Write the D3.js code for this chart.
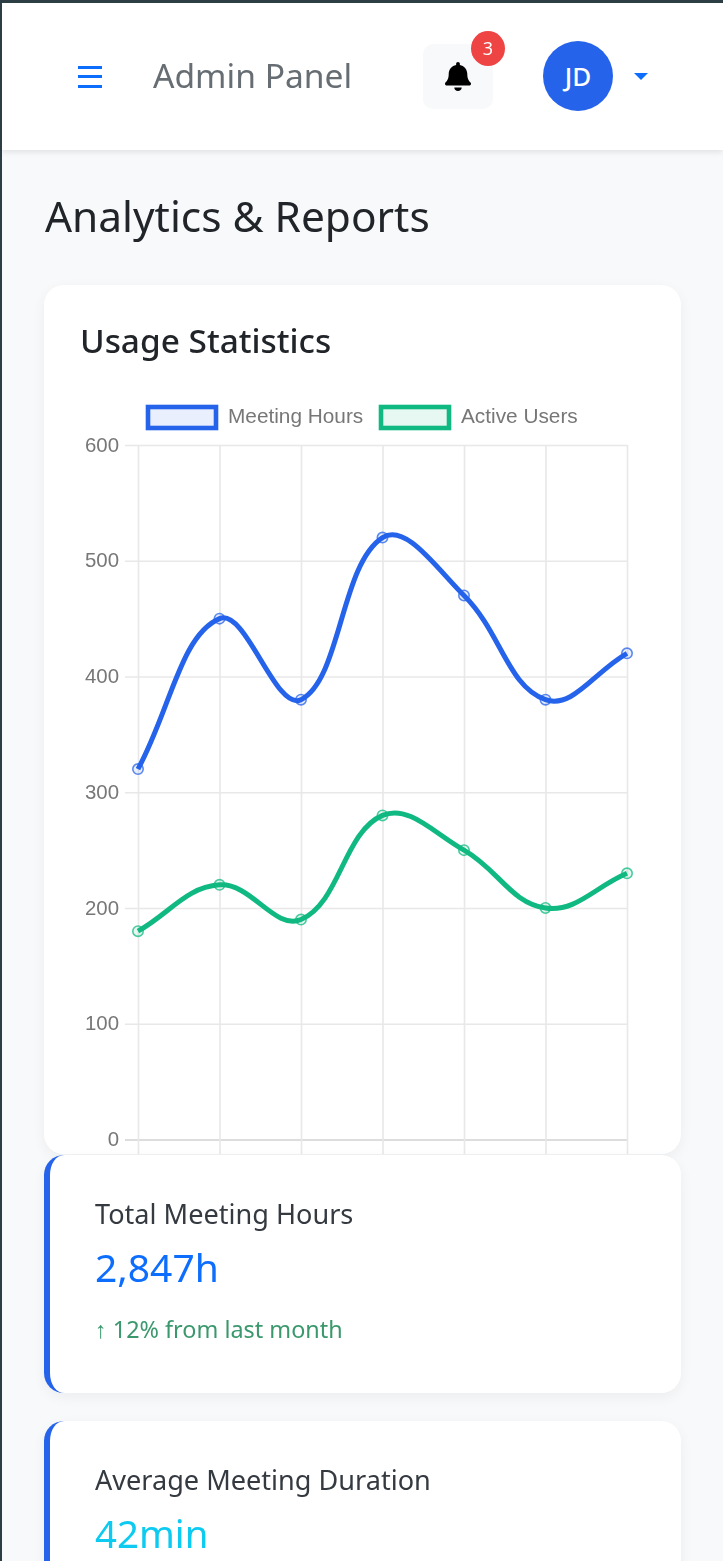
<!DOCTYPE html>
<html><head><meta charset="utf-8">
<script src="https://cdn.jsdelivr.net/npm/d3@7"></script>
<style>
html,body{margin:0;padding:0;width:723px;height:1561px;overflow:hidden;background:#f8f9fa;}
body{position:relative;font-family:"Noto Sans",sans-serif;}
#page{position:absolute;left:0;top:0;width:723px;height:1561px;overflow:hidden;filter:blur(0.45px)}
.abs{position:absolute;white-space:nowrap;line-height:1;}
.frameT{left:0;top:0;width:723px;height:3px;background:#2c3e44;z-index:9}
.frameL{left:0;top:0;width:2px;height:1561px;background:#2c3e44;z-index:9}
.header{left:2px;top:3px;width:721px;height:147px;background:#fff;box-shadow:0 2px 6px rgba(0,0,0,.1)}
.card{left:44px;width:637px;background:#fff;border-radius:20px;box-shadow:0 4px 14px rgba(0,0,0,.05);box-sizing:border-box}
.stat{border-left:6px solid #2563eb}
svg{position:absolute;left:0;top:0}
</style></head><body><div id="page">
<div class="abs frameT"></div><div class="abs frameL"></div>
<div class="abs header"></div>
<div class="abs" style="left:78px;top:66px;width:24px;height:3px;background:#0d6efd"></div>
<div class="abs" style="left:78px;top:75px;width:24px;height:3px;background:#0d6efd"></div>
<div class="abs" style="left:78px;top:85px;width:24px;height:3px;background:#0d6efd"></div>
<div class="abs" id="brand" style="left:153px;top:59px;font-size:33.6px;color:#666d73">Admin Panel</div>
<div class="abs" style="left:423px;top:44px;width:70px;height:65px;background:#f8f9fa;border-radius:10px"></div>
<svg class="abs" style="left:445px;top:62px" width="26" height="29" viewBox="0 0 448 512" preserveAspectRatio="none"><path fill="#000" d="M224 512c35.32 0 63.97-28.65 63.97-64H160.03c0 35.35 28.65 64 63.97 64zm215.39-149.71c-19.32-20.76-55.47-51.99-55.47-154.29 0-77.7-54.48-139.9-127.94-155.16V32c0-17.67-14.32-32-31.98-32s-31.98 14.33-31.98 32v20.84C118.56 68.1 64.08 130.3 64.08 208c0 102.3-36.15 133.53-55.47 154.29-6 6.45-8.66 14.16-8.61 21.71.11 16.4 12.98 32 32.1 32h383.8c19.12 0 32-15.6 32.1-32 .05-7.55-2.61-15.27-8.61-21.71z"/></svg>
<div class="abs" style="left:471px;top:31px;width:34px;height:35px;border-radius:50%;background:#ef4444;color:#fff;font-size:18px;text-align:center;line-height:35px">3</div>
<div class="abs" style="left:543px;top:41px;width:70px;height:70px;border-radius:50%;background:#2563eb;color:#fff;font-size:26px;font-weight:500;text-align:center;line-height:70px">JD</div>
<div class="abs" style="left:634px;top:73px;width:0;height:0;border-left:7px solid transparent;border-right:7px solid transparent;border-top:7px solid #0d6efd"></div>
<div class="abs" id="title" style="left:45px;top:195px;font-size:42.4px;color:#212529;">Analytics &amp; Reports</div>
<div class="abs card" style="top:285px;height:869px"></div>
<div class="abs" id="usage" style="left:80px;top:324px;font-size:33.4px;font-weight:500;color:#212529">Usage Statistics</div>
<div id="chart"></div>
<div class="abs card stat" style="top:1155px;height:238px;z-index:2"></div>
<div class="abs" style="left:95px;top:1200px;font-size:27.1px;color:#343a40;z-index:3">Total Meeting Hours</div>
<div class="abs" style="left:95px;top:1247px;font-size:39px;color:#0d6efd;z-index:3">2,847h</div>
<div class="abs" style="left:95px;top:1318px;font-size:23.4px;color:#198754;opacity:.85;z-index:3">↑ 12% from last month</div>
<div class="abs card stat" style="top:1421px;height:240px;z-index:2"></div>
<div class="abs" style="left:95px;top:1466px;font-size:27.1px;color:#343a40;z-index:3">Average Meeting Duration</div>
<div class="abs" style="left:95px;top:1514px;font-size:38.4px;color:#0dcaf0;z-index:3">42min</div>
</div>
<script>
const categories = ["Jan","Feb","Mar","Apr","May","Jun","Jul"];
const meetingHours = [320,450,380,520,470,380,420];
const activeUsers = [180,220,190,280,250,200,230];
const yTicks = [0,100,200,300,400,500,600];
const seriesNames = ["Meeting Hours","Active Users"];
const seriesColors = ["#2563eb","#10b981"];
const seriesFills = ["rgba(37,99,235,.1)","rgba(16,185,129,.1)"];

const svg = d3.select("#chart").append("svg").attr("width",723).attr("height",1561);
const x = d3.scalePoint().domain(categories).range([138,627]);
const y = d3.scaleLinear().domain([0,600]).range([1139.5,445]);
const grid = "#e8e8e8";

const gy = svg.append("g").attr("transform","translate(138,0)")
  .call(d3.axisLeft(y).tickValues(yTicks).tickSize(13).tickPadding(6));
gy.select(".domain").remove();
gy.selectAll("line").attr("stroke",grid).attr("stroke-width",1.6)
  .attr("x1",-13).attr("x2",489);
gy.selectAll("line").filter(d=>d===0).attr("stroke","#d2d2d2");
gy.selectAll("text").attr("fill","#777").attr("font-family","Liberation Sans").attr("font-size",20.4).attr("dy","0.3em");

const gx = svg.append("g").attr("transform","translate(0,445)")
  .call(d3.axisBottom(x).tickSize(709).tickFormat(""));
gx.select(".domain").remove();
gx.selectAll("line").attr("stroke",grid).attr("stroke-width",1.6);

function chartSpline(context){
  let pts=[];
  return {
    areaStart(){},areaEnd(){},
    lineStart(){pts=[];},
    point(a,b){pts.push([a,b]);},
    lineEnd(){
      const t=0.4, cps=pts.map((p,i)=>{
        const p0=pts[Math.max(i-1,0)],p2=pts[Math.min(i+1,pts.length-1)];
        const d01=Math.hypot(p[0]-p0[0],p[1]-p0[1]),d12=Math.hypot(p2[0]-p[0],p2[1]-p[1]);
        const s=d01+d12,fa=t*d01/s,fb=t*d12/s;
        return {a:[p[0]-fa*(p2[0]-p0[0]),p[1]-fa*(p2[1]-p0[1])],b:[p[0]+fb*(p2[0]-p0[0]),p[1]+fb*(p2[1]-p0[1])]};
      });
      pts.forEach((p,i)=>{
        if(i===0) context.moveTo(p[0],p[1]);
        else context.bezierCurveTo(cps[i-1].b[0],cps[i-1].b[1],cps[i].a[0],cps[i].a[1],p[0],p[1]);
      });
    }
  };
}
const line = d3.line().x((d,i)=>x(categories[i])).y(d=>y(d)).curve(chartSpline);

[meetingHours,activeUsers].forEach((vals,k)=>{
  svg.append("path").datum(vals).attr("d",line).attr("fill","none")
    .attr("stroke",seriesColors[k]).attr("stroke-width",5);
  svg.selectAll(null).data(vals).enter().append("circle")
    .attr("cx",(d,i)=>x(categories[i])).attr("cy",d=>y(d)).attr("r",5.2)
    .attr("fill",seriesFills[k]).attr("stroke",seriesColors[k]).attr("stroke-opacity",.75).attr("stroke-width",1.6);
});

const legendX = d3.scaleOrdinal().domain(seriesNames).range([148,381]);
const lg = svg.selectAll(null).data(seriesNames).enter().append("g")
  .attr("transform",d=>`translate(${legendX(d)},407)`);
lg.append("rect").attr("width",68).attr("height",21)
  .attr("fill",(d,i)=>seriesFills[i]).attr("stroke",(d,i)=>seriesColors[i]).attr("stroke-width",4.6);
lg.append("text").text(d=>d).attr("x",80).attr("y",9).attr("dy","0.35em")
  .attr("fill","#777").attr("font-family","Liberation Sans").attr("font-size",20.8);
</script>
</body></html>
